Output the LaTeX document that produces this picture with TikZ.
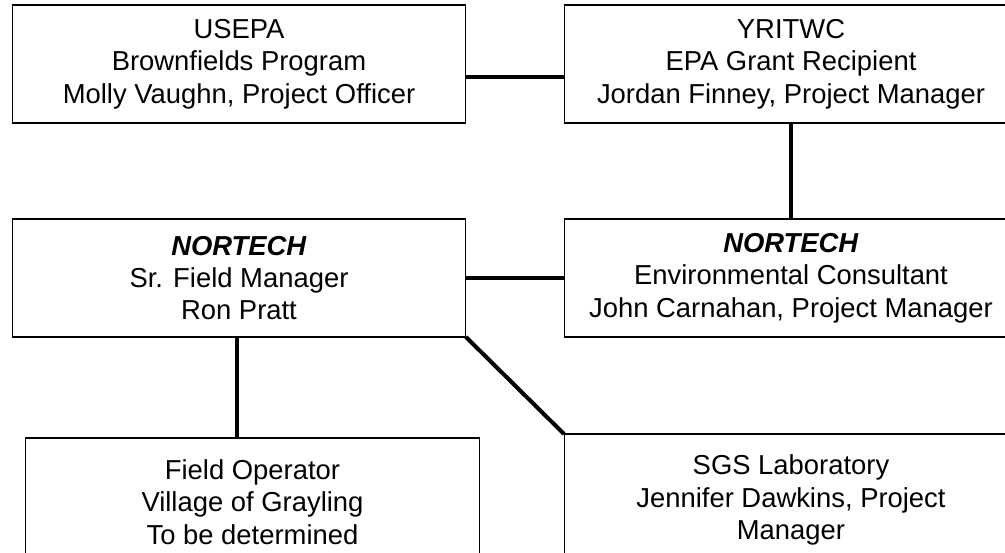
\documentclass[tikz,border=0pt]{standalone}
\usepackage{fontspec}
\setmainfont{Liberation Sans}
\tikzset{
    orgbox/.style={draw, line width=0.6pt, minimum width=9.08cm, minimum height=2.36cm,
        inner sep=0pt, outer sep=0pt, align=center,
        font=\fontsize{15.6}{18.4}\selectfont},
    link/.style={line width=2.3pt}
}

\begin{document}
\begin{tikzpicture}[x=0.02cm, y=-0.02cm]
    \path[use as bounding box, clip] (0,0) rectangle (1005,552);

    % top row
    \node[orgbox] (usepa) at (239, 64) {USEPA\\Brownfields Program\\Molly Vaughn, Project Officer};
    \node[orgbox] (yritwc) at (791, 64) {YRITWC\\EPA Grant Recipient\\Jordan Finney, Project Manager};

    % middle row
    \node[orgbox] (fieldmgr) at (239, 278) {\textbf{\textit{NORTECH}}\\Sr. Field Manager\\Ron Pratt};
    \node[orgbox] (envcon) at (791, 278) {\textbf{\textit{NORTECH}}\\Environmental Consultant\\John Carnahan, Project Manager};

    % bottom row (cut off at the page edge)
    \node[orgbox, minimum width=9.1cm, minimum height=2.56cm] (fieldop) at (252.5, 502) {Field Operator\\Village of Grayling\\To be determined};
    \node[orgbox, minimum height=2.64cm] (sgslab) at (791, 500) {SGS Laboratory\\Jennifer Dawkins, Project\\Manager};

    % connectors
    \draw[link] ([yshift=-0.26cm]usepa.east) -- ([yshift=-0.26cm]yritwc.west);
    \draw[link] (yritwc.south) -- (envcon.north);
    \draw[link] (fieldmgr.east) -- (envcon.west);
    \draw[link] ([xshift=-0.04cm]fieldmgr.south) -- ([xshift=-0.04cm]fieldmgr.south |- fieldop.north);
    \draw[link] (fieldmgr.south east) -- (sgslab.north west);
\end{tikzpicture}
\end{document}
